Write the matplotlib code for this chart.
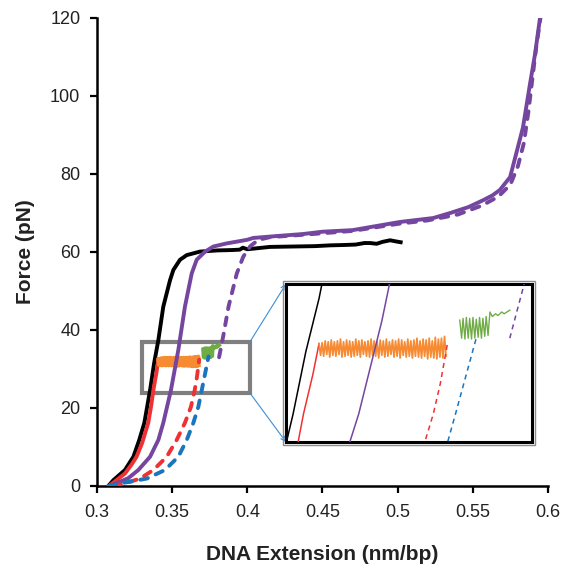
import numpy as np
import matplotlib
matplotlib.use("Agg")
import matplotlib.pyplot as plt
from matplotlib.patches import Rectangle

plt.rcParams['font.family'] = ['Liberation Sans', 'DejaVu Sans']

# ---------------- data ----------------
black_x = [0.3075, 0.3109, 0.3186, 0.3242, 0.3281, 0.3315, 0.3353, 0.3380, 0.3408, 0.3441,
           0.3486, 0.3508, 0.3552, 0.3597, 0.3685, 0.3800, 0.3900, 0.3950, 0.3970, 0.4000,
           0.4150, 0.4300, 0.4450, 0.4550, 0.4650, 0.4720, 0.4780, 0.4816, 0.4860, 0.4900,
           0.4950, 0.4990, 0.5020]
black_y = [0.0, 1.5, 4.1, 7.5, 11.8, 16.2, 24.6, 31.5, 37.4, 46.0,
           52.8, 55.4, 58.0, 59.2, 60.1, 60.4, 60.5, 60.6, 61.1, 60.7,
           61.3, 61.4, 61.5, 61.7, 61.8, 61.9, 62.3, 62.3, 62.1, 62.6,
           63.0, 62.7, 62.5]

red_x = [0.3080, 0.3130, 0.3186, 0.3230, 0.3263, 0.3300, 0.3341, 0.3360, 0.3375, 0.3395, 0.3408]
red_y = [0.0, 1.5, 3.2, 5.5, 7.5, 11.0, 16.2, 20.5, 24.6, 29.0, 32.4]

# orange: evenly sampled zigzag between these x limits
orange_x0, orange_x1 = 0.3408, 0.3677
orange_y = [32.4, 31.1, 32.5, 31.0, 32.7, 31.2, 32.6, 30.9, 32.8, 31.1, 32.6, 31.0, 32.7, 31.2,
            32.9, 30.9, 32.6, 31.0, 32.8, 31.1, 32.7, 30.9, 32.6, 31.0, 32.9, 31.1, 32.7, 30.9,
            32.8, 31.2, 32.6, 31.0, 32.7, 30.9, 32.9, 31.1, 32.7, 31.0, 32.6, 30.8, 32.8, 31.1,
            32.7, 30.9, 32.9, 31.0, 32.6, 31.2, 32.8, 30.9, 32.7, 31.0, 32.9, 30.8, 32.8, 31.1,
            32.6, 30.9, 32.9, 31.0, 32.7, 30.8, 32.8, 31.0, 33.0, 30.9, 32.7, 30.8, 32.9, 31.0,
            32.8, 30.7, 33.0, 30.9, 32.7, 30.8, 33.1, 30.7, 32.9, 30.9, 33.0, 30.8, 33.2, 31.0]

reddash_x = [0.3108, 0.3180, 0.3286, 0.3375, 0.3464, 0.3530, 0.3585, 0.3625, 0.3650, 0.3665, 0.3680]
reddash_y = [0.0, 0.6, 1.9, 4.1, 7.5, 11.8, 16.2, 20.3, 24.6, 28.0, 32.4]

bluedash_x = [0.3075, 0.3175, 0.3331, 0.3452, 0.3541, 0.3597, 0.3641, 0.3674, 0.3697, 0.3720, 0.3742]
bluedash_y = [0.0, 0.8, 1.9, 4.1, 7.5, 11.8, 16.2, 20.3, 24.6, 29.0, 33.2]

green_x = [0.3706, 0.3710, 0.3713, 0.3717, 0.3720, 0.3724, 0.3727, 0.3731, 0.3734, 0.3738,
           0.3741, 0.3745, 0.3748, 0.3752, 0.3755, 0.3759, 0.3762, 0.3766, 0.3770, 0.3775,
           0.3782, 0.3787, 0.3795, 0.3800, 0.3812]
green_y = [35.0, 33.0, 35.2, 32.9, 35.3, 33.0, 35.2, 32.9, 35.3, 33.0,
           35.1, 33.1, 35.3, 33.0, 35.2, 33.2, 35.4, 33.3, 35.9, 35.4,
           35.7, 35.5, 35.9, 35.7, 36.1]

purple_x = [0.3086, 0.3208, 0.3275, 0.3353, 0.3408, 0.3441, 0.3492, 0.3541, 0.3585, 0.3630,
            0.3663, 0.3719, 0.3774, 0.3863, 0.3996, 0.4040, 0.4200, 0.4370, 0.4500, 0.4700,
            0.4850, 0.5016, 0.5236, 0.5350, 0.5470, 0.5570, 0.5630, 0.5680, 0.5748, 0.5794,
            0.5834, 0.5880, 0.5915, 0.5947]
purple_y = [0.0, 2.0, 4.1, 7.5, 11.8, 16.2, 24.6, 34.9, 46.0, 54.5,
            58.0, 60.1, 61.4, 62.2, 63.1, 63.6, 64.1, 64.6, 65.2, 65.6,
            66.6, 67.7, 68.7, 70.0, 71.5, 73.3, 74.5, 75.9, 79.2, 86.0,
            92.0, 103.0, 111.0, 120.0]

purpledash_x = [0.3812, 0.3840, 0.3875, 0.3930, 0.3973, 0.4020, 0.4073, 0.4150, 0.4400, 0.4700,
                0.5000, 0.5200, 0.5400, 0.5560, 0.5670, 0.5750, 0.5800, 0.5840, 0.5870, 0.5895,
                0.5920, 0.5950]
purpledash_y = [33.0, 38.5, 46.0, 54.5, 58.8, 61.5, 63.1, 63.8, 64.5, 65.4,
                67.2, 68.1, 69.6, 71.9, 74.2, 77.3, 82.0, 88.0, 96.0, 104.0,
                112.0, 120.0]

x_ticks = [0.3, 0.35, 0.4, 0.45, 0.5, 0.55, 0.6]
x_tick_labels = ['0.3', '0.35', '0.4', '0.45', '0.5', '0.55', '0.6']
y_ticks = [0, 20, 40, 60, 80, 100, 120]

# zoom box (main) and inset ranges
box_x0, box_x1, box_y0, box_y1 = 0.3297, 0.4018, 23.8, 37.0
inset_xlim = (0.3338, 0.3859)
inset_ylim = (21.5, 39.0)

C_BLACK = '#000000'
C_RED = '#ee3233'
C_ORANGE = '#f68b33'
C_GREEN = '#6fac46'
C_BLUE = '#1a75bc'
C_PURPLE = '#7446a0'

orange_x = np.linspace(orange_x0, orange_x1, len(orange_y))

# ---------------- figure ----------------
fig = plt.figure(figsize=(5.72, 5.69), dpi=100)
ax = fig.add_axes([0.1696, 0.1459, 0.958 - 0.1696, 0.9684 - 0.1459])


def draw(a, lw, dash_main, dash_kw, thin=False):
    a.plot(black_x, black_y, color=C_BLACK, lw=lw, zorder=3, solid_joinstyle='round')
    a.plot(red_x, red_y, color=C_RED, lw=lw, zorder=3)
    a.plot(orange_x, orange_y, color=C_ORANGE, lw=lw * (1.15 if thin else 1.0), zorder=3.2)
    a.plot(purple_x, purple_y, color=C_PURPLE, lw=lw, zorder=3.4)
    a.plot(reddash_x, reddash_y, color=C_RED, lw=lw, dashes=dash_main, zorder=3.5, **dash_kw)
    a.plot(green_x, green_y, color=C_GREEN, lw=lw * (0.9 if thin else 1.0), zorder=3.6)
    a.plot(bluedash_x, bluedash_y, color=C_BLUE, lw=lw, dashes=dash_main, zorder=3.7, **dash_kw)
    a.plot(purpledash_x, purpledash_y, color=C_PURPLE, lw=lw, dashes=dash_main, zorder=3.3, **dash_kw)


draw(ax, 2.8, (2.0, 2.2), dict(dash_capstyle='round'))

ax.set_xlim(0.3, 0.6)
ax.set_ylim(0, 120)
ax.set_xticks(x_ticks)
ax.set_xticklabels(x_tick_labels)
ax.set_yticks(y_ticks)
for s in ['top', 'right']:
    ax.spines[s].set_visible(False)
for s in ['left', 'bottom']:
    ax.spines[s].set_linewidth(1.8)
ax.tick_params(direction='out', length=5, width=1.6, labelsize=13, colors='#000000',
               labelcolor='#222222')
ax.tick_params(axis='y', pad=7)
ax.tick_params(axis='x', pad=8)
ax.set_xlabel('DNA Extension (nm/bp)', fontsize=15, fontweight='bold', labelpad=17,
              color='#222222')
ax.set_ylabel('Force (pN)', fontsize=15, fontweight='bold', labelpad=11, color='#222222')

# gray zoom box
ax.add_patch(Rectangle((box_x0, box_y0), box_x1 - box_x0, box_y1 - box_y0, fill=False,
                       edgecolor='#7f7f7f', lw=3, zorder=2.5))

# inset
iax = fig.add_axes([0.500, 0.2232, 0.430, 0.2777])
draw(iax, 1.1, (3.3, 2.7), dict(), thin=True)
iax.set_xlim(*inset_xlim)
iax.set_ylim(*inset_ylim)
iax.set_xticks([])
iax.set_yticks([])
for s in iax.spines.values():
    s.set_linewidth(2.2)
    s.set_color('black')

# gray outer frame around inset
fig.patches.append(Rectangle((0.500 - 0.0045, 0.2232 - 0.0045), 0.430 + 0.009, 0.2777 + 0.009,
                             transform=fig.transFigure, fill=False, edgecolor='#8c8c8c',
                             lw=1.0, zorder=10))

# connector arrows from box to inset
arrow_kw = dict(arrowstyle='->', color='#3d8fd6', lw=0.8, shrinkA=0, shrinkB=0,
                mutation_scale=8)
ax.annotate('', xy=(0.0, 1.0), xycoords=iax.transAxes,
            xytext=(box_x1, box_y1), textcoords='data', arrowprops=arrow_kw)
ax.annotate('', xy=(0.0, 0.0), xycoords=iax.transAxes,
            xytext=(box_x1, box_y0), textcoords='data', arrowprops=arrow_kw)

fig.savefig('out.png', dpi=100)
